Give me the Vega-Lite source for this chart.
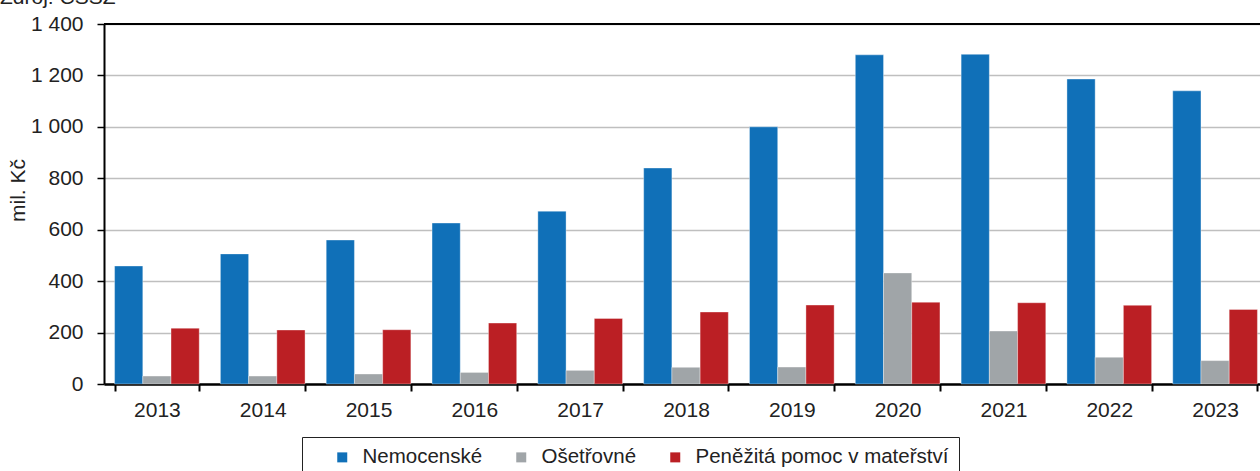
{
  "$schema": "https://vega.github.io/schema/vega-lite/v6.json",
  "width": 1164,
  "height": 360,
  "autosize": {"type": "none"},
  "padding": {"left": 104, "top": 24, "right": -8, "bottom": 87},
  "background": "white",
  "title": {
    "text": "Zdroj: ČSSZ",
    "anchor": "start",
    "frame": "group",
    "dx": -104,
    "fontSize": 21,
    "fontWeight": "normal",
    "color": "#222222",
    "offset": -12,
    "baseline": "alphabetic"
  },
  "data": {
    "values": [
      {"year": "2013", "type": "Nemocenské", "value": 459},
      {"year": "2013", "type": "Ošetřovné", "value": 31},
      {"year": "2013", "type": "Peněžitá pomoc v mateřství", "value": 217},
      {"year": "2014", "type": "Nemocenské", "value": 506},
      {"year": "2014", "type": "Ošetřovné", "value": 31},
      {"year": "2014", "type": "Peněžitá pomoc v mateřství", "value": 210},
      {"year": "2015", "type": "Nemocenské", "value": 560},
      {"year": "2015", "type": "Ošetřovné", "value": 39},
      {"year": "2015", "type": "Peněžitá pomoc v mateřství", "value": 211},
      {"year": "2016", "type": "Nemocenské", "value": 626},
      {"year": "2016", "type": "Ošetřovné", "value": 45},
      {"year": "2016", "type": "Peněžitá pomoc v mateřství", "value": 237},
      {"year": "2017", "type": "Nemocenské", "value": 672},
      {"year": "2017", "type": "Ošetřovné", "value": 53},
      {"year": "2017", "type": "Peněžitá pomoc v mateřství", "value": 255},
      {"year": "2018", "type": "Nemocenské", "value": 840},
      {"year": "2018", "type": "Ošetřovné", "value": 65},
      {"year": "2018", "type": "Peněžitá pomoc v mateřství", "value": 280},
      {"year": "2019", "type": "Nemocenské", "value": 1000},
      {"year": "2019", "type": "Ošetřovné", "value": 66},
      {"year": "2019", "type": "Peněžitá pomoc v mateřství", "value": 307},
      {"year": "2020", "type": "Nemocenské", "value": 1280},
      {"year": "2020", "type": "Ošetřovné", "value": 432},
      {"year": "2020", "type": "Peněžitá pomoc v mateřství", "value": 318},
      {"year": "2021", "type": "Nemocenské", "value": 1282},
      {"year": "2021", "type": "Ošetřovné", "value": 206},
      {"year": "2021", "type": "Peněžitá pomoc v mateřství", "value": 316},
      {"year": "2022", "type": "Nemocenské", "value": 1186},
      {"year": "2022", "type": "Ošetřovné", "value": 104},
      {"year": "2022", "type": "Peněžitá pomoc v mateřství", "value": 306},
      {"year": "2023", "type": "Nemocenské", "value": 1140},
      {"year": "2023", "type": "Ošetřovné", "value": 91},
      {"year": "2023", "type": "Peněžitá pomoc v mateřství", "value": 290}
    ]
  },
  "layer": [
    {
      "mark": {"type": "bar", "stroke": "white", "strokeWidth": 0.6, "strokeOpacity": 0.6},
      "encoding": {
        "x": {
          "field": "year",
          "type": "ordinal",
          "scale": {"paddingInner": 0.2, "paddingOuter": 0.1},
          "axis": {
            "title": null,
            "labelAngle": 0,
            "tickBand": "extent",
            "domainColor": "black",
            "domainWidth": 2.5,
            "tickColor": "black",
            "tickWidth": 2,
            "tickSize": 7,
            "labelFontSize": 21,
            "labelPadding": 8,
            "labelColor": "#222222",
            "grid": false
          }
        },
        "xOffset": {
          "field": "type",
          "sort": ["Nemocenské", "Ošetřovné", "Peněžitá pomoc v mateřství"],
          "scale": {"paddingInner": 0, "paddingOuter": 0}
        },
        "y": {
          "field": "value",
          "type": "quantitative",
          "scale": {"domain": [0, 1400], "nice": false},
          "axis": {
            "title": "mil. Kč",
            "titleFontSize": 21,
            "titleFontWeight": "normal",
            "titleColor": "#222222",
            "titlePadding": 2,
            "titleY": 166,
            "values": [0, 200, 400, 600, 800, 1000, 1200, 1400],
            "labelExpr": "replace(format(datum.value, ','), ',', ' ')",
            "labelFontSize": 21,
            "labelColor": "#222222",
            "labelPadding": 14,
            "tickSize": 7,
            "tickColor": "black",
            "tickWidth": 1.5,
            "domainColor": "black",
            "domainWidth": 2,
            "grid": true,
            "gridColor": "#bfbfbf",
            "gridWidth": 1.5
          }
        },
        "color": {
          "field": "type",
          "type": "nominal",
          "scale": {
            "domain": ["Nemocenské", "Ošetřovné", "Peněžitá pomoc v mateřství"],
            "range": ["#1070b8", "#a0a5a8", "#bb1f24"]
          },
          "legend": {
            "orient": "none",
            "legendX": 198,
            "legendY": 413,
            "direction": "horizontal",
            "title": " ",
            "titleOrient": "left",
            "titlePadding": 20,
            "titleFontSize": 20.5,
            "strokeColor": "#222222",
            "padding": 10,
            "symbolType": "square",
            "symbolSize": 100,
            "symbolStrokeWidth": 0,
            "labelFontSize": 20.5,
            "labelColor": "#222222",
            "labelOffset": 10,
            "columnPadding": 28,
            "labelLimit": 400,
            "labelExpr": "datum.label == 'Peněžitá pomoc v mateřství' ? datum.label + '\u00a0\u00a0\u00a0\u00a0' : datum.label"
          }
        }
      }
    },
    {
      "mark": {"type": "rule", "color": "black", "strokeWidth": 2},
      "encoding": {"y": {"datum": 1400}}
    }
  ],
  "config": {
    "font": "Liberation Sans",
    "view": {"stroke": null}
  }
}
